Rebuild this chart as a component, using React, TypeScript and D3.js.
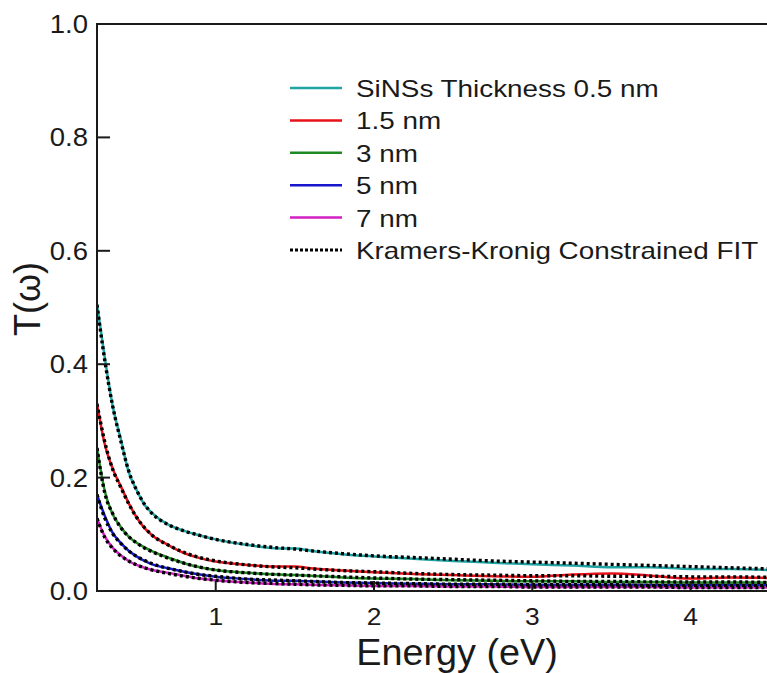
import React from "react";
import * as d3 from "d3";

// photon energy grid (eV)
const energies = [0.25, 0.3, 0.35, 0.4, 0.45, 0.5, 0.55, 0.6, 0.7, 0.8, 0.9, 1.0, 1.2, 1.4, 1.5, 1.6, 1.8, 2.0, 2.25, 2.5, 2.75, 3.0, 3.25, 3.5, 3.75, 4.0, 4.25, 4.5];

const labels = ["SiNSs Thickness 0.5 nm", "1.5 nm", "3 nm", "5 nm", "7 nm"];
const colors = ["#1fa3a3", "#e8111a", "#1f8a24", "#1616cc", "#d21fc4"];

// measured T(w)
const t05 = [0.505, 0.41, 0.325, 0.268, 0.21, 0.178, 0.152, 0.137, 0.117, 0.106, 0.098, 0.091, 0.081, 0.075, 0.075, 0.071, 0.065, 0.061, 0.057, 0.053, 0.05, 0.047, 0.045, 0.042, 0.042, 0.039, 0.039, 0.037];
const t15 = [0.33, 0.258, 0.215, 0.185, 0.155, 0.13, 0.111, 0.098, 0.081, 0.067, 0.058, 0.052, 0.046, 0.043, 0.043, 0.04, 0.036, 0.033, 0.03, 0.028, 0.026, 0.025, 0.029, 0.031, 0.027, 0.022, 0.024, 0.023];
const t3 = [0.252, 0.175, 0.135, 0.113, 0.096, 0.085, 0.077, 0.07, 0.059, 0.049, 0.042, 0.037, 0.032, 0.029, 0.028, 0.027, 0.024, 0.022, 0.021, 0.019, 0.018, 0.017, 0.017, 0.016, 0.016, 0.015, 0.015, 0.015];
const t5 = [0.17, 0.132, 0.102, 0.085, 0.071, 0.061, 0.053, 0.047, 0.04, 0.034, 0.029, 0.025, 0.021, 0.018, 0.018, 0.017, 0.015, 0.014, 0.013, 0.012, 0.012, 0.011, 0.011, 0.011, 0.01, 0.01, 0.01, 0.01];
const t7 = [0.128, 0.096, 0.076, 0.063, 0.053, 0.046, 0.041, 0.037, 0.032, 0.027, 0.022, 0.019, 0.015, 0.012, 0.012, 0.011, 0.01, 0.009, 0.009, 0.008, 0.008, 0.007, 0.007, 0.007, 0.007, 0.006, 0.006, 0.006];

// Kramers-Kronig constrained fits
const fit05 = [0.505, 0.405, 0.325, 0.265, 0.212, 0.178, 0.153, 0.136, 0.117, 0.106, 0.098, 0.091, 0.082, 0.076, 0.074, 0.071, 0.066, 0.062, 0.059, 0.056, 0.053, 0.051, 0.049, 0.047, 0.045, 0.043, 0.041, 0.039];
const fit15 = [0.33, 0.262, 0.214, 0.183, 0.154, 0.13, 0.112, 0.098, 0.081, 0.068, 0.059, 0.053, 0.046, 0.042, 0.041, 0.039, 0.036, 0.034, 0.031, 0.029, 0.028, 0.027, 0.027, 0.026, 0.026, 0.025, 0.025, 0.024];
const fit3 = [0.252, 0.172, 0.136, 0.112, 0.096, 0.085, 0.076, 0.069, 0.058, 0.049, 0.042, 0.037, 0.032, 0.029, 0.028, 0.027, 0.025, 0.023, 0.021, 0.02, 0.019, 0.018, 0.017, 0.017, 0.016, 0.016, 0.016, 0.015];
const fit5 = [0.17, 0.128, 0.101, 0.084, 0.071, 0.061, 0.054, 0.048, 0.04, 0.034, 0.029, 0.026, 0.021, 0.019, 0.018, 0.017, 0.015, 0.014, 0.013, 0.012, 0.012, 0.011, 0.011, 0.011, 0.01, 0.01, 0.01, 0.01];
const fit7 = [0.128, 0.094, 0.075, 0.062, 0.053, 0.046, 0.041, 0.037, 0.031, 0.026, 0.022, 0.019, 0.015, 0.013, 0.012, 0.011, 0.01, 0.009, 0.009, 0.008, 0.008, 0.007, 0.007, 0.007, 0.007, 0.006, 0.006, 0.006];

const xTicks = [1, 2, 3, 4];
const yTicks = [0, 0.2, 0.4, 0.6, 0.8, 1.0];

const W = 767, H = 673;
const left = 97, top = 24, bottom = 591;

export default function App() {
  const x = d3.scaleLinear().domain([0.25, 4.5]).range([left, left + 4.25 * 158.3]);
  const y = d3.scaleLinear().domain([0, 1]).range([bottom, top]);
  const line = d3.line<number>()
    .x((d, i) => x(energies[i]))
    .y(d => y(d))
    .curve(d3.curveMonotoneX);

  const data = [t05, t15, t3, t5, t7];
  const fits = [fit05, fit15, fit3, fit5, fit7];
  const font = "'Liberation Sans', Arial, sans-serif";
  const legendRows = [...labels, "Kramers-Kronig Constrained FIT"];
  const ink = "#1a1a1a";

  return (
    <svg width={W} height={H} style={{position: "absolute", left: 0, top: 0, background: "#fff"}} fontFamily={font}>
      <defs>
        <clipPath id="plot">
          <rect x={left} y={top - 2} width={W - left} height={bottom - top + 2} />
        </clipPath>
      </defs>
      <g clipPath="url(#plot)">
        {data.map((s, i) => (
          <path key={"d" + i} d={line(s) || ""} fill="none" stroke={colors[i]} strokeWidth={2.5} />
        ))}
        {fits.map((s, i) => (
          <path key={"f" + i} d={line(s) || ""} fill="none" stroke="#000" strokeWidth={3.4} strokeDasharray="3,3" />
        ))}
      </g>

      {/* frame */}
      <line x1={left} x2={left} y1={top} y2={bottom + 1} stroke={ink} strokeWidth={2} />
      <line x1={left - 1} x2={W} y1={top} y2={top} stroke={ink} strokeWidth={2} />
      <line x1={left - 1} x2={W} y1={bottom} y2={bottom} stroke={ink} strokeWidth={2} />

      {yTicks.map(t => (
        <g key={"y" + t}>
          <line x1={left} x2={left + 13} y1={y(t)} y2={y(t)} stroke={ink} strokeWidth={2} />
          <text transform={`translate(88,${y(t) + 9}) scale(1.1,1)`} textAnchor="end" fontSize={25} fill={ink}>{t.toFixed(1)}</text>
        </g>
      ))}
      {xTicks.map(t => (
        <g key={"x" + t}>
          <line x1={x(t)} x2={x(t)} y1={bottom} y2={bottom - 10} stroke={ink} strokeWidth={2} />
          <text transform={`translate(${x(t)},625) scale(1.1,1)`} textAnchor="middle" fontSize={24} fill={ink}>{t}</text>
        </g>
      ))}

      <text transform="translate(457,665) scale(1.05,1)" textAnchor="middle" fontSize={36} fill={ink}>Energy (eV)</text>
      <text transform="translate(40,299) rotate(-90)" textAnchor="middle" fontSize={36} fill={ink}>T(ω)</text>

      {legendRows.map((lab, i) => {
        const cy = 88 + i * 32.4;
        const isFit = i === labels.length;
        return (
          <g key={"l" + i}>
            <line x1={290} x2={342} y1={cy} y2={cy}
              stroke={isFit ? "#000" : colors[i]}
              strokeWidth={isFit ? 3 : 2.5}
              strokeDasharray={isFit ? "3,2" : undefined} />
            <text transform={`translate(356,${cy + 9}) scale(1.16,1)`} fontSize={24} fill={ink}>{lab}</text>
          </g>
        );
      })}
    </svg>
  );
}
